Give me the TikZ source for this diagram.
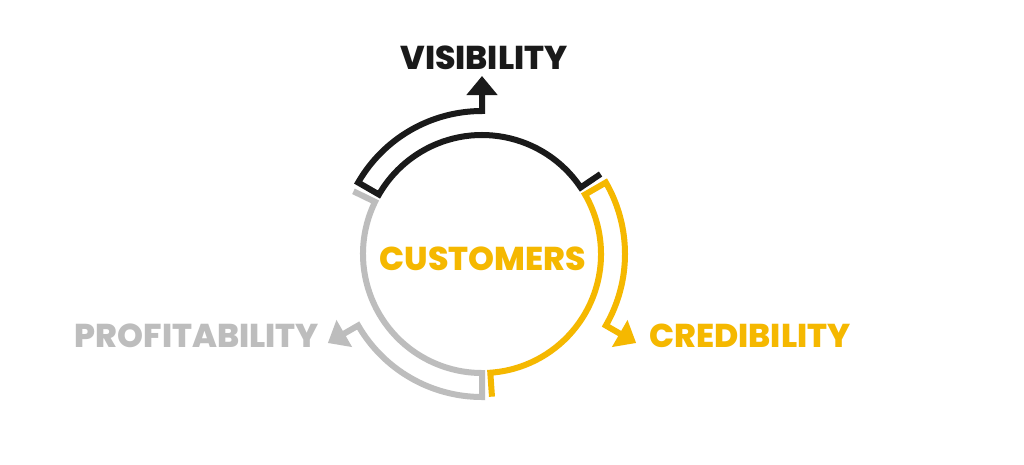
\documentclass[tikz,border=0pt]{standalone}
\usepackage{fontspec}
\setmainfont{Poppins}[BoldFont={Poppins ExtraBold}]
\usetikzlibrary{arrows.meta}
\definecolor{cyyellow}{HTML}{F5B800}
\definecolor{cygray}{HTML}{BDBDBD}
\definecolor{cyblack}{HTML}{1A1A1A}
\newcommand\cyclepiece[2]{%
  \begin{scope}[shift={(482,-254)},rotate=#1]
    \draw[piece,#2] (34:143) -- (34:119)
      arc[start angle=34,end angle=150,radius=119]
      -- (150:143)
      arc[start angle=150,end angle=90,radius=143]
      -- (90:178);
  \end{scope}}
\begin{document}
\begin{tikzpicture}[x=1pt,y=1pt,
  piece/.style={line width=6pt,line join=miter,-{Triangle[width=30pt,length=19pt]}},
  label/.style={font=\fontsize{33}{40}\selectfont\bfseries,inner sep=0pt,anchor=center}]
\useasboundingbox (0,0) rectangle (1024,-464);
\fill[white] (0,0) rectangle (1024,-464);
\cyclepiece{0}{cyblack}
\cyclepiece{-120}{cyyellow}
\cyclepiece{120}{cygray}
\node[label,text=cyblack] (vis) at (484,-58) {VISIBILITY};
\node[label,text=cyyellow] (cust) at (483,-259) {CUSTOMERS};
\node[label,text=cyyellow] (cred) at (750,-336) {CREDIBILITY};
\node[label,text=cygray] (prof) at (197,-336) {PROFITABILITY};
\end{tikzpicture}
\end{document}
